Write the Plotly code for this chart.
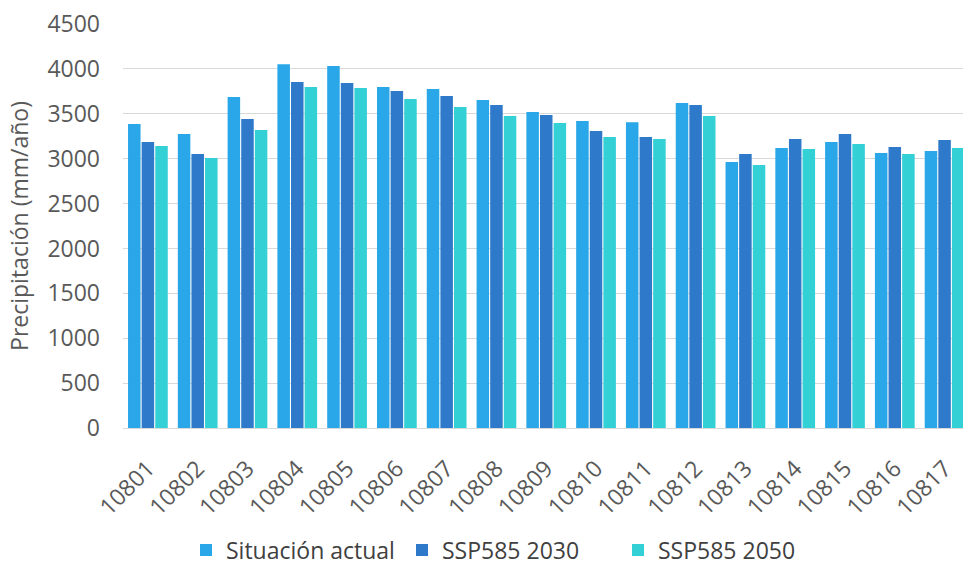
import plotly.graph_objects as go

categories = ["10801", "10802", "10803", "10804", "10805", "10806", "10807", "10808", "10809",
              "10810", "10811", "10812", "10813", "10814", "10815", "10816", "10817"]
actual = [3385, 3274, 3686, 4053, 4031, 3797, 3775, 3653, 3519, 3419, 3407, 3619, 2962, 3118, 3185, 3062, 3085]
ssp2030 = [3185, 3051, 3441, 3853, 3842, 3753, 3697, 3597, 3486, 3307, 3240, 3597, 3051, 3218, 3274, 3129, 3207]
ssp2050 = [3140, 3007, 3318, 3797, 3786, 3664, 3575, 3474, 3396, 3240, 3218, 3474, 2929, 3107, 3163, 3051, 3118]
series_names = ["Situación actual", "SSP585 2030", "SSP585 2050"]
colors = ["#2AA7E8", "#2E79C9", "#33D0D6"]

font_family = "Open Sans, Liberation Sans, sans-serif"
fig = go.Figure()
for name, vals, col in zip(series_names, [actual, ssp2030, ssp2050], colors):
    fig.add_trace(go.Bar(x=categories, y=vals, name=name, marker=dict(color=col, line=dict(width=0))))

fig.update_layout(
    width=963, height=567,
    margin=dict(l=123, r=0, t=24, b=139),
    paper_bgcolor="white", plot_bgcolor="white",
    barmode="group", bargap=0.18, bargroupgap=0.08,
    font=dict(family=font_family, color="#595959", size=23),
    showlegend=True,
    legend=dict(orientation="h", x=0.075, xanchor="left", y=0.068, yref="container", yanchor="top",
                font=dict(size=23, color="#404040"), itemwidth=30, traceorder="normal",
                entrywidth=171, entrywidthmode="pixels"),
    xaxis=dict(range=[-0.5, 16.37], tickangle=-45, tickfont=dict(size=23, color="#595959"),
               showline=True, linecolor="#d9d9d9", linewidth=1, ticks="", showgrid=False,
               automargin=False, ticklabelstandoff=17),
    yaxis=dict(range=[0, 4500], dtick=500, showgrid=True, gridcolor="#d9d9d9", gridwidth=1,
               zeroline=False, tickfont=dict(size=23, color="#595959"), ticks="",
               ticklabelstandoff=22, automargin=False,
               title=dict(text="Precipitación (mm/año)", font=dict(size=23, color="#595959"), standoff=12)),
)
fig.write_html("out.html")
